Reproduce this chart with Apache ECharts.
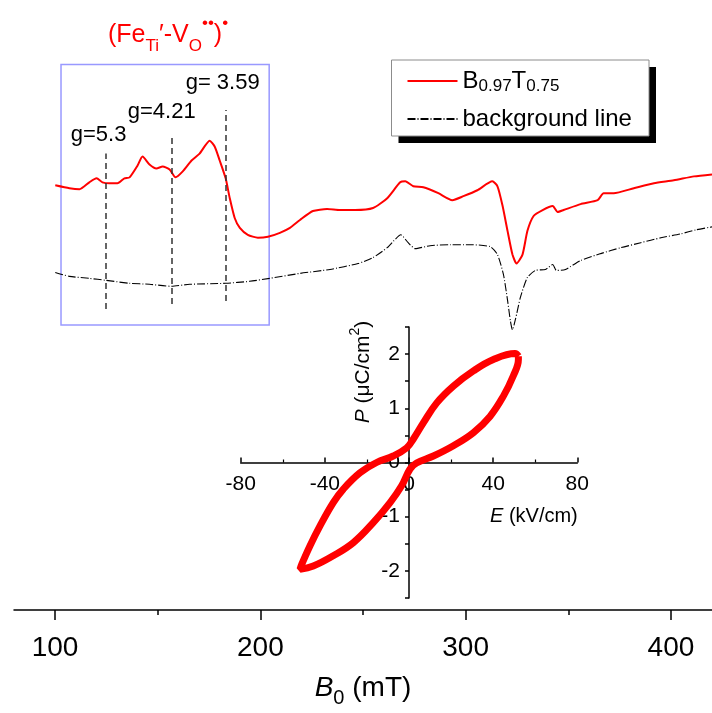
<!DOCTYPE html>
<html>
<head>
<meta charset="utf-8">
<script src="https://cdn.jsdelivr.net/npm/echarts@6/dist/echarts.min.js"></script>
<style>
html, body { margin: 0; padding: 0; background: #fff; }
#main { width: 712px; height: 713px; }
</style>
</head>
<body>
<div id="main"></div>
<script>
/*********** EPR spectra (B0 in mT, signal in a.u.) ***********/
var redField = [100.1,107.0,111.9,116.7,120.2,123.1,126.5,130.4,133.8,136.3,140.2,142.6,146.0,149.4,152.4,155.8,158.7,162.2,166.5,170.4,175.3,177.8,180.2,183.1,185.1,187.5,190.0,193.9,198.8,203.7,209.5,214.4,219.3,225.6,232.5,238.8,246.1,254.9,261.8,268.1,270.6,274.5,279.4,286.7,293.5,298.9,305.7,313.0,315.5,317.9,320.4,322.8,324.8,327.7,330.1,333.1,337.5,342.4,344.8,347.7,356.0,364.3,367.2,372.1,381.9,391.7,401.4,411.2,420.0];
var redSignal = [429,426,425,432,436,432,431,431,436,437,449,458,450,446,448,445,437,443,454,461,474,468,454,436,416,396,386,379,376,377,381,386,394,403,405,404,404,406,416,432,433,428,427,421,414,418,424,433,428,409,383,359,350,359,383,398,404,408,402,404,410,414,421,421,426,431,434,438,440];

var bgField = [100.1,107.0,116.7,124.8,136.3,146.0,156.8,165.6,183.1,194.8,204.6,219.3,233.9,247.6,254.9,261.8,265.0,268.4,272.0,275.4,282.7,292.5,302.2,312.0,315.5,318.4,320.4,321.8,322.8,324.3,326.7,330.1,334.0,338.9,342.4,344.2,348.6,356.0,365.8,375.6,385.3,395.1,404.9,412.2,420.0];
var bgSignal = [341,337,335,333,330,329,327,329,330,332,335,340,344,350,356,366,373,379,371,365,368,369,369,367,359,339,313,292,283,294,316,336,343,344,349,343,344,353,360,366,371,376,380,384,387];

// g-factor markers
var gField = [124.6, 156.8, 183.1];
var gLow = [304, 309, 312];
var gHigh = [461, 478, 505];
var gLabels = ['g=5.3', 'g=4.21', 'g= 3.59'];
var gLabelShift = [[-7, -3], [-10, -9], [-3, -11]];

// highlighted box
var boxField = [102.9, 204.3];
var boxSignal = [288, 551];

// tick labels
var majorTicks = [100, 200, 300, 400];
var minorTicks = [150, 250, 350];

/*********** inset: P-E loop ***********/
var loopE = [52.0,50.4,40.1,30.6,21.1,13.2,6.8,2.0,-1.1,-7.5,-15.4,-23.3,-31.2,-36.0,-42.3,-47.1,-51.0,-51.8,-45.5,-36.0,-26.5,-17.0,-9.0,-3.5,0.5,3.6,11.6,21.1,30.6,38.5,44.8,49.6,52.0,52.0];
var loopP = [1.96,2.01,1.90,1.69,1.41,1.10,0.73,0.43,0.27,0.12,0.00,-0.19,-0.49,-0.74,-1.17,-1.54,-1.88,-1.97,-1.91,-1.72,-1.48,-1.11,-0.74,-0.43,-0.12,-0.01,0.12,0.31,0.55,0.85,1.22,1.60,1.90,1.96];

function pairs(a, b) {
  var out = [];
  for (var i = 0; i < a.length; i++) out.push([a[i], b[i]]);
  return out;
}

var FONT = 'Liberation Sans';

// inset frame (axes cross at the origin)
var inset = { left: 240.7, top: 327, width: 336.6, height: 271 };
var eMin = -80, eMax = 80, pMin = -2.5, pMax = 2.5;
var xAxisShift = -inset.height * (0 - pMin) / (pMax - pMin);
var yAxisShift = -inset.width * (0 - eMin) / (eMax - eMin);

// legend frame
var legBox = { x: 391.5, y: 60, w: 257.5, h: 76 };

var gLines = [];
for (var i = 0; i < gField.length; i++) {
  gLines.push([
    { coord: [gField[i], gLow[i]],
      label: { show: true, position: 'end', formatter: gLabels[i], offset: gLabelShift[i],
               fontFamily: FONT, fontSize: 22, color: '#000', distance: 5 } },
    { coord: [gField[i], gHigh[i]] }
  ]);
}

var myChart = echarts.init(document.getElementById('main'), null, { renderer: 'canvas' });

var option = {
  animation: false,
  backgroundColor: '#fff',
  title: {
    text: '{n|(Fe}{s|Ti}{n|\u2032-V}{s|O}{p|\u2022\u2022}{n|)}{p|\u2022}',
    left: 103, top: 10,
    textStyle: {
      rich: {
        n: { fontFamily: FONT, fontSize: 25, fontWeight: 'normal', color: '#ff0000', lineHeight: 40, verticalAlign: 'middle' },
        s: { fontFamily: FONT, fontSize: 17, fontWeight: 'normal', color: '#ff0000', lineHeight: 14, verticalAlign: 'bottom' },
        p: { fontFamily: FONT, fontSize: 17, fontWeight: 'normal', color: '#ff0000', lineHeight: 14, verticalAlign: 'top' }
      }
    }
  },
  legend: {
    orient: 'vertical',
    left: legBox.x, top: legBox.y,
    data: ['B0.97T0.75', 'background line'],
    itemWidth: 50, itemHeight: 14, itemGap: 12,
    padding: [9, 16, 5, 15],
    itemStyle: { opacity: 0 },
    formatter: function (name) {
      if (name === 'B0.97T0.75') return '{n|B}{s|0.97}{n|T}{s|0.75}';
      return '{n|' + name + '}';
    },
    textStyle: {
      rich: {
        n: { fontFamily: FONT, fontSize: 24, color: '#000', lineHeight: 28, verticalAlign: 'middle' },
        s: { fontFamily: FONT, fontSize: 17, color: '#000', lineHeight: 10, verticalAlign: 'bottom' }
      }
    }
  },
  grid: [
    { left: 14, right: 0, top: 16, bottom: 97 },
    { left: inset.left, top: inset.top, width: inset.width, height: inset.height }
  ],
  xAxis: [
    {
      type: 'value', gridIndex: 0, min: 80, max: 420, position: 'bottom',
      axisLine: { onZero: false, lineStyle: { color: '#000', width: 1.5 } },
      axisTick: { inside: false, length: 10, customValues: majorTicks, lineStyle: { color: '#000', width: 1.5 } },
      axisLabel: { customValues: majorTicks, fontFamily: FONT, fontSize: 28, color: '#000', margin: 24 },
      splitLine: { show: false },
      name: '{i|B}{s|0}{n| (mT)}',
      nameLocation: 'middle', nameGap: 58,
      nameTextStyle: {
        rich: {
          i: { fontFamily: FONT, fontSize: 28, fontStyle: 'italic', color: '#000', lineHeight: 40, verticalAlign: 'middle' },
          s: { fontFamily: FONT, fontSize: 20, color: '#000', lineHeight: 16, verticalAlign: 'bottom' },
          n: { fontFamily: FONT, fontSize: 28, color: '#000', lineHeight: 40, verticalAlign: 'middle' }
        }
      }
    },
    {
      type: 'value', gridIndex: 0, min: 80, max: 420, position: 'bottom',
      axisLine: { show: false, onZero: false },
      axisTick: { inside: false, length: 5, customValues: minorTicks, lineStyle: { color: '#000', width: 1.5 } },
      axisLabel: { show: false },
      splitLine: { show: false }
    },
    {
      type: 'value', gridIndex: 1, min: eMin, max: eMax, interval: 40,
      position: 'bottom', offset: xAxisShift,
      axisLine: { onZero: false, lineStyle: { color: '#000', width: 1.5 } },
      axisTick: { inside: true, length: 5, lineStyle: { color: '#000', width: 1.5 } },
      minorTick: { show: true, splitNumber: 2, length: 3, lineStyle: { color: '#000', width: 1.2 } },
      axisLabel: { fontFamily: FONT, fontSize: 21, color: '#000', margin: 11, hideOverlap: false },
      splitLine: { show: false }
    }
  ],
  yAxis: [
    { type: 'value', gridIndex: 0, min: 0, max: 600, show: false },
    {
      type: 'value', gridIndex: 1, min: pMin, max: pMax, interval: 0.5,
      position: 'left', offset: yAxisShift,
      axisLine: { onZero: false, lineStyle: { color: '#000', width: 1.5 } },
      axisTick: { inside: false, length: 4, lineStyle: { color: '#000', width: 1.5 } },
      axisLabel: {
        fontFamily: FONT, fontSize: 21, color: '#000', margin: 9, hideOverlap: false,
        formatter: function (v) { return Number.isInteger(v) ? String(v) : ''; }
      },
      splitLine: { show: false }
    }
  ],
  graphic: [
    {
      type: 'rect', z: -10, silent: true,
      shape: { x: legBox.x + 7, y: legBox.y + 7, width: legBox.w, height: legBox.h },
      style: { fill: '#000' }
    },
    {
      type: 'rect', z: -9, silent: true,
      shape: { x: legBox.x, y: legBox.y, width: legBox.w, height: legBox.h },
      style: { fill: '#fff', stroke: '#8c8c8c', lineWidth: 1 }
    },
    {
      type: 'text', left: 490, top: 506,
      style: {
        text: '{i|E}{n| (kV/cm)}',
        rich: {
          i: { fontFamily: FONT, fontSize: 20, fontStyle: 'italic', fill: '#000' },
          n: { fontFamily: FONT, fontSize: 20, fill: '#000' }
        }
      }
    },
    {
      type: 'text', x: 363, y: 372, rotation: Math.PI / 2,
      style: {
        text: '{i|P}{n| (\u03bcC/cm}{p|2}{n|)}',
        align: 'center', verticalAlign: 'middle',
        rich: {
          i: { fontFamily: FONT, fontSize: 21, fontStyle: 'italic', fill: '#000', lineHeight: 30, verticalAlign: 'middle' },
          n: { fontFamily: FONT, fontSize: 21, fill: '#000', lineHeight: 30, verticalAlign: 'middle' },
          p: { fontFamily: FONT, fontSize: 14, fill: '#000', lineHeight: 12, verticalAlign: 'top' }
        }
      }
    }
  ],
  series: [
    {
      name: 'B0.97T0.75', type: 'line', xAxisIndex: 0, yAxisIndex: 0,
      data: pairs(redField, redSignal), symbol: 'none', smooth: 0.2,
      lineStyle: { color: '#ff0000', width: 2 }, itemStyle: { color: '#ff0000' },
      markLine: {
        silent: true, symbol: ['none', 'none'],
        lineStyle: { color: '#333', width: 1.5, type: [6, 4] },
        label: { show: false },
        data: gLines
      },
      markArea: {
        silent: true,
        itemStyle: { color: 'rgba(0,0,0,0)', borderColor: '#9999ff', borderWidth: 1.5 },
        data: [[{ coord: [boxField[0], boxSignal[1]] }, { coord: [boxField[1], boxSignal[0]] }]]
      }
    },
    {
      name: 'background line', type: 'line', xAxisIndex: 0, yAxisIndex: 0,
      data: pairs(bgField, bgSignal), symbol: 'none', smooth: 0.2,
      lineStyle: { color: '#000', width: 1.1, type: [8, 2, 1, 2] }, itemStyle: { color: '#000' }
    },
    {
      name: 'loop', type: 'line', xAxisIndex: 2, yAxisIndex: 1,
      data: pairs(loopE, loopP), symbol: 'none', smooth: 0.4,
      lineStyle: { color: '#ff0000', width: 7 }
    }
  ]
};

myChart.setOption(option);
</script>
</body>
</html>
